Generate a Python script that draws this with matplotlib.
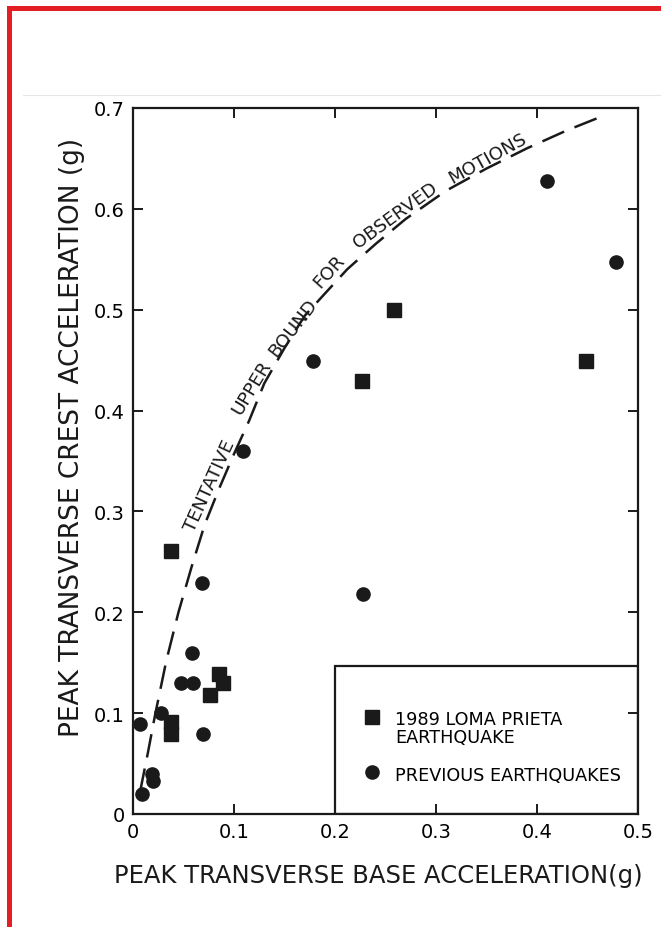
import matplotlib
matplotlib.use("Agg")
import matplotlib.pyplot as plt
from matplotlib.patches import Rectangle

# --- data ---------------------------------------------------------------
# 1989 Loma Prieta earthquake (squares)
lp_base  = [0.038, 0.038, 0.038, 0.076, 0.085, 0.089, 0.227, 0.258, 0.449]
lp_crest = [0.261, 0.091, 0.079, 0.118, 0.139, 0.130, 0.429, 0.500, 0.449]

# previous earthquakes (circles)
prev_base  = [0.007, 0.009, 0.019, 0.020, 0.028, 0.048, 0.059, 0.058, 0.068,
              0.069, 0.109, 0.178, 0.228, 0.410, 0.478]
prev_crest = [0.089, 0.020, 0.040, 0.033, 0.100, 0.130, 0.130, 0.160, 0.229,
              0.079, 0.360, 0.449, 0.218, 0.628, 0.547]

# tentative upper bound curve (dashed)
bound_base  = [0.007, 0.015, 0.022, 0.033, 0.045, 0.058, 0.071, 0.085, 0.100,
               0.115, 0.130, 0.150, 0.170, 0.190, 0.212, 0.240, 0.270, 0.310,
               0.350, 0.390, 0.430, 0.465]
bound_crest = [0.022, 0.062, 0.099, 0.152, 0.200, 0.245, 0.287, 0.322, 0.357,
               0.390, 0.427, 0.462, 0.494, 0.516, 0.540, 0.565, 0.590, 0.618,
               0.640, 0.660, 0.678, 0.692]

# curve caption, one word at a time: (word, x, y, angle)
bound_words = [
    ("TENTATIVE", 0.0762, 0.326, 65.5),
    ("UPPER",     0.1175, 0.424, 58.8),
    ("BOUND",     0.1587, 0.483, 52.3),
    ("FOR",       0.194,  0.5385, 48),
    ("OBSERVED",  0.260,  0.594, 36),
    ("MOTIONS",   0.3508, 0.651, 29),
]

x_ticks = [0, 0.1, 0.2, 0.3, 0.4, 0.5]
x_ticklabels = ["0", "0.1", "0.2", "0.3", "0.4", "0.5"]
y_ticks = [0, 0.1, 0.2, 0.3, 0.4, 0.5, 0.6, 0.7]
y_ticklabels = ["0", "0.1", "0.2", "0.3", "0.4", "0.5", "0.6", "0.7"]

INK = "#1a1a1a"
RED = "#e31e24"

W, H = 661, 928
fig = plt.figure(figsize=(W / 100, H / 100), dpi=100)
fig.patch.set_facecolor("white")

# red frame (top and left edges only) and the faint rule above the plot
fig.patches.append(Rectangle((7 / W, 1 - 12 / H), 1, 5 / H, transform=fig.transFigure,
                             color=RED, lw=0))
fig.patches.append(Rectangle((7 / W, 0), 5 / W, 1 - 7 / H, transform=fig.transFigure,
                             color=RED, lw=0))
fig.lines.append(plt.Line2D([23 / W, 1], [1 - 96 / H, 1 - 96 / H], transform=fig.transFigure,
                            color="#e6e6e6", lw=0.8))

ax = fig.add_axes([133 / W, 1 - 815 / H, 505 / W, 706 / H])

ax.plot(bound_base, bound_crest, color=INK, lw=1.8, dashes=(9.5, 4.5),
        solid_capstyle="butt", zorder=2)
for word, xw, yw, ang in bound_words:
    ax.text(xw, yw, word, rotation=ang, rotation_mode="anchor", ha="center", va="center",
            fontsize=13.2, color=INK)

ax.plot(lp_base, lp_crest, ls="none", marker="s", ms=9.5, color=INK,
        label="1989 LOMA PRIETA\nEARTHQUAKE", zorder=3)
ax.plot(prev_base, prev_crest, ls="none", marker="o", ms=9.5, color=INK,
        label="PREVIOUS EARTHQUAKES", zorder=3)

# legend sits in a box joined to the lower-right corner of the axes
ax.add_patch(Rectangle((0.2, 0), 0.3, 0.147, fill=False, ec=INK, lw=1.6, zorder=4))
leg = ax.legend(loc="upper left", bbox_to_anchor=(0.456, 0.147), frameon=False,
                borderpad=0, borderaxespad=0, handlelength=1.0, handleheight=0.8,
                handletextpad=0.82, labelspacing=1.1, fontsize=12.7)
for t in leg.get_texts():
    t.set_linespacing(1.0)
# keep the marker level with the first line of a two-line label
for col in leg._legend_handle_box.get_children():
    for item in col.get_children():
        item.align = "top"

ax.set_xlim(0, 0.5)
ax.set_ylim(0, 0.7)
ax.set_xticks(x_ticks)
ax.set_xticklabels(x_ticklabels)
ax.set_yticks(y_ticks)
ax.set_yticklabels(y_ticklabels)
ax.tick_params(direction="in", length=7, width=1.4, labelsize=14, pad=6, color=INK,
               top=True, right=True)
for s in ax.spines.values():
    s.set_linewidth(1.6)
    s.set_color(INK)

ax.set_xlabel("PEAK TRANSVERSE BASE ACCELERATION(g)", fontsize=17.5, color=INK, va="center")
ax.xaxis.set_label_coords(0.485, -0.087)
ax.set_ylabel("PEAK TRANSVERSE CREST ACCELERATION (g)", fontsize=19, color=INK, va="center")
ax.yaxis.set_label_coords(-0.121, 0.535)

fig.savefig("out.png", dpi=100)
